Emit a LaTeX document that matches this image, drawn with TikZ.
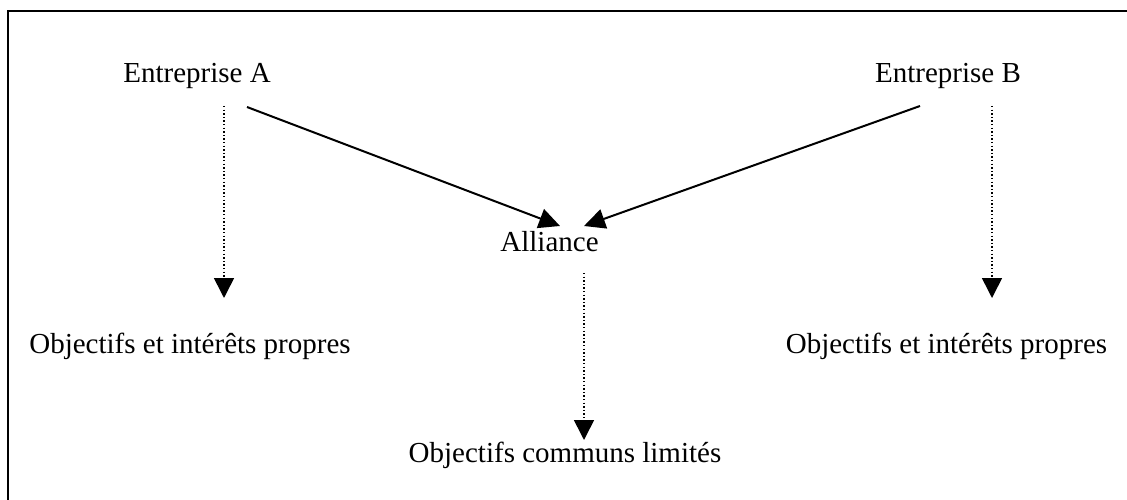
\documentclass[tikz,border=0pt]{standalone}
\usepackage{fontspec}
\setmainfont{Liberation Serif}
\usetikzlibrary{arrows.meta}
\begin{document}
\begin{tikzpicture}[x=1pt,y=-1pt,
  lbl/.style={anchor=base,inner sep=0pt,font=\fontsize{29}{34}\selectfont},
  solidarrow/.style={line width=2pt,-{Triangle[length=21pt,width=20pt]}},
  dotarrow/.style={line width=1.6pt,dash pattern=on 1.4pt off 2.2pt,-{Triangle[length=20pt,width=20pt]}},
  frame/.style={line width=2.6pt}]
\useasboundingbox (0,0) rectangle (1127,500);
\draw[frame] (8,505) -- (8,11) -- (1135,11);
\node[lbl] (ea) at (197,83) {Entreprise A};
\node[lbl] (eb) at (948,83) {Entreprise B};
\node[lbl] (al) at (549.5,251) {Alliance};
\node[lbl] (oa) at (190,353) {Objectifs et intérêts propres};
\node[lbl] (ob) at (946.5,353) {Objectifs et intérêts propres};
\node[lbl] (oc) at (565,462) {Objectifs communs limités};
\coordinate (ea1) at (247,107);
\coordinate (ea2) at (224,106);
\coordinate (eb1) at (920,106);
\coordinate (eb2) at (992,106);
\coordinate (al1) at (560,226);
\coordinate (al2) at (584,226);
\coordinate (al3) at (584,273);
\coordinate (oa1) at (224,298);
\coordinate (ob1) at (992,298);
\coordinate (oc1) at (584,440);
\draw[solidarrow] (ea1) -- (al1);
\draw[solidarrow] (eb1) -- (al2);
\draw[dotarrow] (ea2) -- (oa1);
\draw[dotarrow] (eb2) -- (ob1);
\draw[dotarrow] (al3) -- (oc1);
\end{tikzpicture}
\end{document}
